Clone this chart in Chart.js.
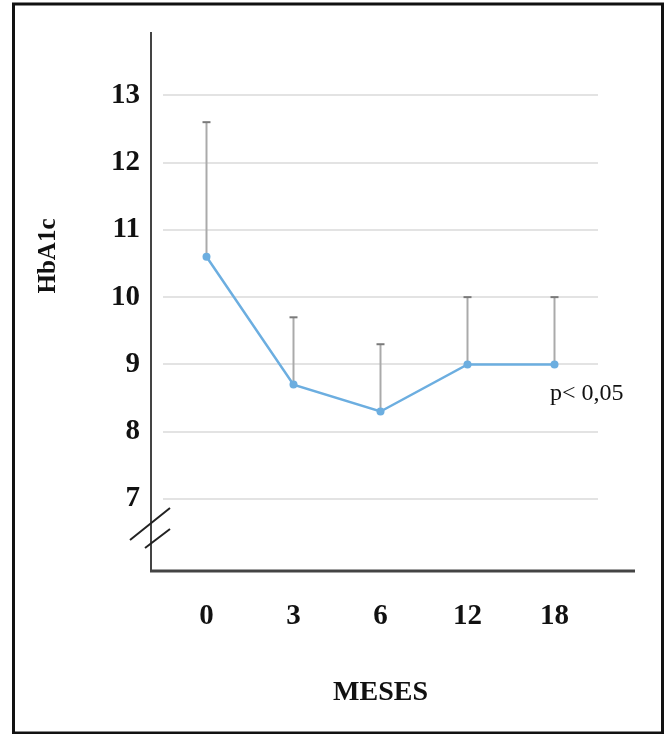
<!DOCTYPE html>
<html>
<head>
<meta charset="utf-8">
<script src="https://cdn.jsdelivr.net/npm/chart.js@4"></script>
<style>
  body { margin: 0; background: #fff; }
  canvas { display: block; }
</style>
</head>
<body>
<canvas id="hba1cChart" width="670" height="734"></canvas>
<script>
const months = ["0", "3", "6", "12", "18"];
const hba1cMean = [10.6, 8.7, 8.3, 9.0, 9.0];
const hba1cUpper = [12.6, 9.7, 9.3, 10.0, 10.0];
const yTickValues = [7, 8, 9, 10, 11, 12, 13];

const serif = "'Liberation Serif', 'Times New Roman', serif";

// axis lines, break marks, error bars and the labels that are not axis ticks
const extrasPlugin = {
  id: "extras",
  beforeDatasetsDraw(chart) {
    const ctx = chart.ctx;
    const x = chart.scales.x;
    const y = chart.scales.y;
    ctx.save();
    hba1cUpper.forEach((top, i) => {
      let px = x.getPixelForValue(i);
      let yTop = y.getPixelForValue(top);
      let yMid = y.getPixelForValue(hba1cMean[i]);
      ctx.strokeStyle = "#aaaaaa";
      ctx.lineWidth = 2;
      ctx.beginPath();
      ctx.moveTo(px, yMid);
      ctx.lineTo(px, yTop);
      ctx.stroke();
      ctx.strokeStyle = "#7a7a7a";
      ctx.beginPath();
      ctx.moveTo(px - 4, yTop);
      ctx.lineTo(px + 4, yTop);
      ctx.stroke();
    });
    ctx.restore();
  },
  afterDraw(chart) {
    const ctx = chart.ctx;
    const area = chart.chartArea;
    ctx.save();

    // axes
    ctx.strokeStyle = "#444";
    ctx.lineWidth = 2;
    ctx.beginPath();
    ctx.moveTo(151, area.top);
    ctx.lineTo(151, area.bottom);
    ctx.stroke();
    ctx.lineWidth = 3;
    ctx.beginPath();
    ctx.moveTo(150, area.bottom);
    ctx.lineTo(635, area.bottom);
    ctx.stroke();

    // axis break
    ctx.strokeStyle = "#222";
    ctx.lineWidth = 2;
    ctx.beginPath();
    ctx.moveTo(130, 540);
    ctx.lineTo(170, 508);
    ctx.moveTo(145, 548);
    ctx.lineTo(170, 529);
    ctx.stroke();

    // y title
    ctx.fillStyle = "#111";
    ctx.font = "bold 25px " + serif;
    ctx.textAlign = "center";
    ctx.textBaseline = "middle";
    ctx.translate(49, 256);
    ctx.rotate(-Math.PI / 2);
    ctx.fillText("HbA1c", 0, 0);
    ctx.setTransform(1, 0, 0, 1, 0, 0);

    // p value
    ctx.font = "24px " + serif;
    ctx.textAlign = "left";
    ctx.textBaseline = "alphabetic";
    ctx.fillText("p< 0,05", 550, 400);

    // frame
    ctx.strokeStyle = "#111";
    ctx.lineWidth = 3;
    ctx.strokeRect(13.5, 4, 649, 729);
    ctx.restore();
  },
};

new Chart(document.getElementById("hba1cChart"), {
  type: "line",
  data: {
    labels: months,
    datasets: [
      {
        data: hba1cMean,
        borderColor: "#6caee0",
        backgroundColor: "#6caee0",
        borderWidth: 2.5,
        pointRadius: 4,
        pointBackgroundColor: "#6caee0",
        pointBorderWidth: 0,
        tension: 0,
      },
    ],
  },
  options: {
    responsive: false,
    animation: false,
    layout: { autoPadding: false, padding: { top: 32, right: 72, left: 0, bottom: 0 } },
    plugins: { legend: { display: false }, tooltip: { enabled: false } },
    scales: {
      x: {
        offset: true,
        grid: { display: false },
        border: { display: false },
        ticks: {
          color: "#111",
          padding: 20,
          font: { family: serif, size: 29, weight: "bold" },
        },
        title: {
          display: true,
          text: "MESES",
          color: "#111",
          padding: { top: 0, bottom: 24 },
          font: { family: serif, size: 28, weight: "bold" },
        },
        afterFit(scale) {
          scale.height = 163;
          scale.paddingLeft = 0;
          scale.paddingRight = 0;
        },
      },
      y: {
        min: 5.93,
        max: 13.94,
        border: { display: false },
        grid: { color: "#e3e3e3", lineWidth: 2, drawTicks: false },
        ticks: {
          color: "#111",
          padding: 23,
          stepSize: 1,
          font: { family: serif, size: 29, weight: "bold" },
        },
        afterBuildTicks(scale) {
          scale.ticks = yTickValues.map((v) => ({ value: v }));
        },
        afterFit(scale) {
          scale.width = 163;
          scale.paddingTop = 0;
          scale.paddingBottom = 0;
        },
      },
    },
  },
  plugins: [extrasPlugin],
});
</script>
</body>
</html>
